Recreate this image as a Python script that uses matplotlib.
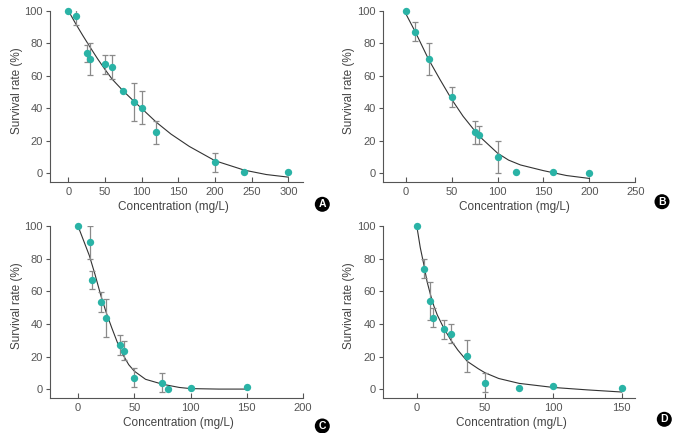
import matplotlib
matplotlib.use("Agg")
import matplotlib.pyplot as plt
from matplotlib.patches import Circle
import numpy as np

plt.rcParams['font.family'] = ['Liberation Sans Narrow', 'Liberation Sans', 'DejaVu Sans']

TEAL = "#2ab3a6"
GREY = "#555555"

# panel A
a_x = [0, 10, 25, 30, 50, 60, 75, 90, 100, 120, 200, 240, 300]
a_y = [100, 97, 73.7, 70.2, 67, 65.4, 50.5, 43.6, 40.3, 25.1, 6.6, 0.5, 0.5]
a_err = [0, 6, 5.3, 10, 6, 7.2, 0, 11.7, 10.2, 7, 5.7, 0, 0]
a_fit_x = [0, 10, 20, 30, 40, 50, 60, 75, 90, 100, 120, 140, 165, 200, 240, 270, 300]
a_fit_y = [100, 92, 84.5, 77.3, 70.3, 63.8, 57.7, 50.5, 44, 39.8, 31.3, 24, 16.4, 7.6, 1.8, -0.9, -2.5]

# panel B
b_x = [0, 10, 25, 50, 75, 80, 100, 120, 160, 200]
b_y = [100, 87, 70.2, 47, 25, 23.7, 10, 0.5, 0.5, 0.3]
b_err = [0, 5.8, 10, 6, 7, 5.6, 10, 0, 0, 0]
b_fit_x = [0, 10, 25, 37.5, 50, 62.5, 75, 80, 100, 112, 125, 150, 175, 200]
b_fit_y = [98.3, 87.5, 70, 57.5, 45.5, 35, 26.2, 22.8, 12.3, 8, 5, 1.5, -1.5, -3.3]

# panel C
c_x = [0, 10.5, 12.5, 20, 25, 37.5, 40.5, 50, 75, 80, 100, 150]
c_y = [100, 90.2, 67, 53.6, 43.7, 27.2, 23.5, 7, 3.9, 0.3, 0.7, 1.2]
c_err = [0, 10, 5.5, 6, 11.5, 6.1, 5.9, 6, 5.9, 0, 0, 0]
c_fit_x = [0, 5, 10, 15, 20, 25, 30, 35, 40, 45, 50, 60, 75, 90, 100, 125, 150]
c_fit_y = [100, 91, 82, 70.5, 58, 47, 37.5, 28.5, 21, 15, 11, 6, 3, 1, 0.3, 0, 0]

# panel D
d_x = [0, 5, 10, 12, 20, 25, 37, 50, 75, 100, 150]
d_y = [100, 74, 54, 43.8, 36.8, 34, 20.4, 3.9, 0.6, 1.8, 0.8]
d_err = [0, 6, 11.5, 5.8, 5.8, 5.7, 9.7, 5.7, 0, 0, 0]
d_fit_x = [0, 2.5, 5, 7.5, 10, 12.5, 15, 20, 25, 30, 37, 45, 50, 60, 75, 100, 125, 150]
d_fit_y = [100, 87, 77, 66, 58, 51, 45.5, 37, 30, 24, 17, 12.5, 10, 6.5, 3.5, 1, -0.5, -1.8]


def draw_panel(ax, x, y, err, fit_x, fit_y, xlim, xticks):
    ax.plot(fit_x, fit_y, '-', color="#333333", lw=0.8, zorder=2)
    x, y, err = np.array(x), np.array(y), np.array(err)
    has_err = err > 0
    ax.errorbar(x[has_err], y[has_err], yerr=err[has_err], fmt='none',
                ecolor="#8a8a8a", elinewidth=0.9, capsize=2.4, capthick=0.9, zorder=3)
    ax.plot(x, y, 'o', color=TEAL, markersize=5.3, markeredgewidth=0, zorder=4, clip_on=False)

    ax.set_xlim(*xlim)
    ax.set_ylim(-5.3, 100)
    ax.set_xticks(xticks)
    ax.set_yticks([0, 20, 40, 60, 80, 100])
    for side in ['top', 'right']:
        ax.spines[side].set_visible(False)
    for side in ['left', 'bottom']:
        ax.spines[side].set_color(GREY)
        ax.spines[side].set_linewidth(0.8)
    ax.tick_params(axis='x', direction='in', length=3.5, width=0.8, colors=GREY,
                   labelsize=8, pad=4)
    ax.tick_params(axis='y', direction='out', length=3, width=0.8, colors=GREY,
                   labelsize=8, pad=2)
    ax.set_xlabel("Concentration (mg/L)", fontsize=8.5, color="#444444")
    ax.set_ylabel("Survival rate (%)", fontsize=8.5, color="#444444")


fig = plt.figure(figsize=(6.84, 4.33), dpi=100)

ax_a = fig.add_axes([0.0731, 0.5804, 0.3699, 0.3949])
ax_b = fig.add_axes([0.5595, 0.5804, 0.3693, 0.3949])
ax_c = fig.add_axes([0.0731, 0.0815, 0.3699, 0.3958])
ax_d = fig.add_axes([0.5595, 0.0815, 0.3693, 0.3958])

draw_panel(ax_a, a_x, a_y, a_err, a_fit_x, a_fit_y, (-25, 320), [0, 50, 100, 150, 200, 250, 300])
draw_panel(ax_b, b_x, b_y, b_err, b_fit_x, b_fit_y, (-25, 250), [0, 50, 100, 150, 200, 250])
draw_panel(ax_c, c_x, c_y, c_err, c_fit_x, c_fit_y, (-25, 200), [0, 50, 100, 150, 200])
draw_panel(ax_d, d_x, d_y, d_err, d_fit_x, d_fit_y, (-25, 160), [0, 50, 100, 150])

ax_a.xaxis.set_label_coords(0.487, -0.112)
ax_b.xaxis.set_label_coords(0.523, -0.112)
ax_c.xaxis.set_label_coords(0.509, -0.112)
ax_d.xaxis.set_label_coords(0.509, -0.112)
for ax in [ax_a, ax_b, ax_c, ax_d]:
    ax.yaxis.set_label_coords(-0.108, 0.535)

# panel badges (positions in inches from lower-left)
badges = {"A": (3.223, 2.287), "B": (6.62, 2.313), "C": (3.223, 0.07), "D": (6.643, 0.137)}
for letter, (bx, by) in badges.items():
    fig.add_artist(Circle((bx, by), 0.075, transform=fig.dpi_scale_trans,
                          facecolor="black", edgecolor="none"))
    fig.text(bx, by, letter, transform=fig.dpi_scale_trans, ha='center', va='center',
             color="white", fontsize=7.5, fontweight='bold', family='Liberation Sans')

fig.savefig("out.png", dpi=100)
